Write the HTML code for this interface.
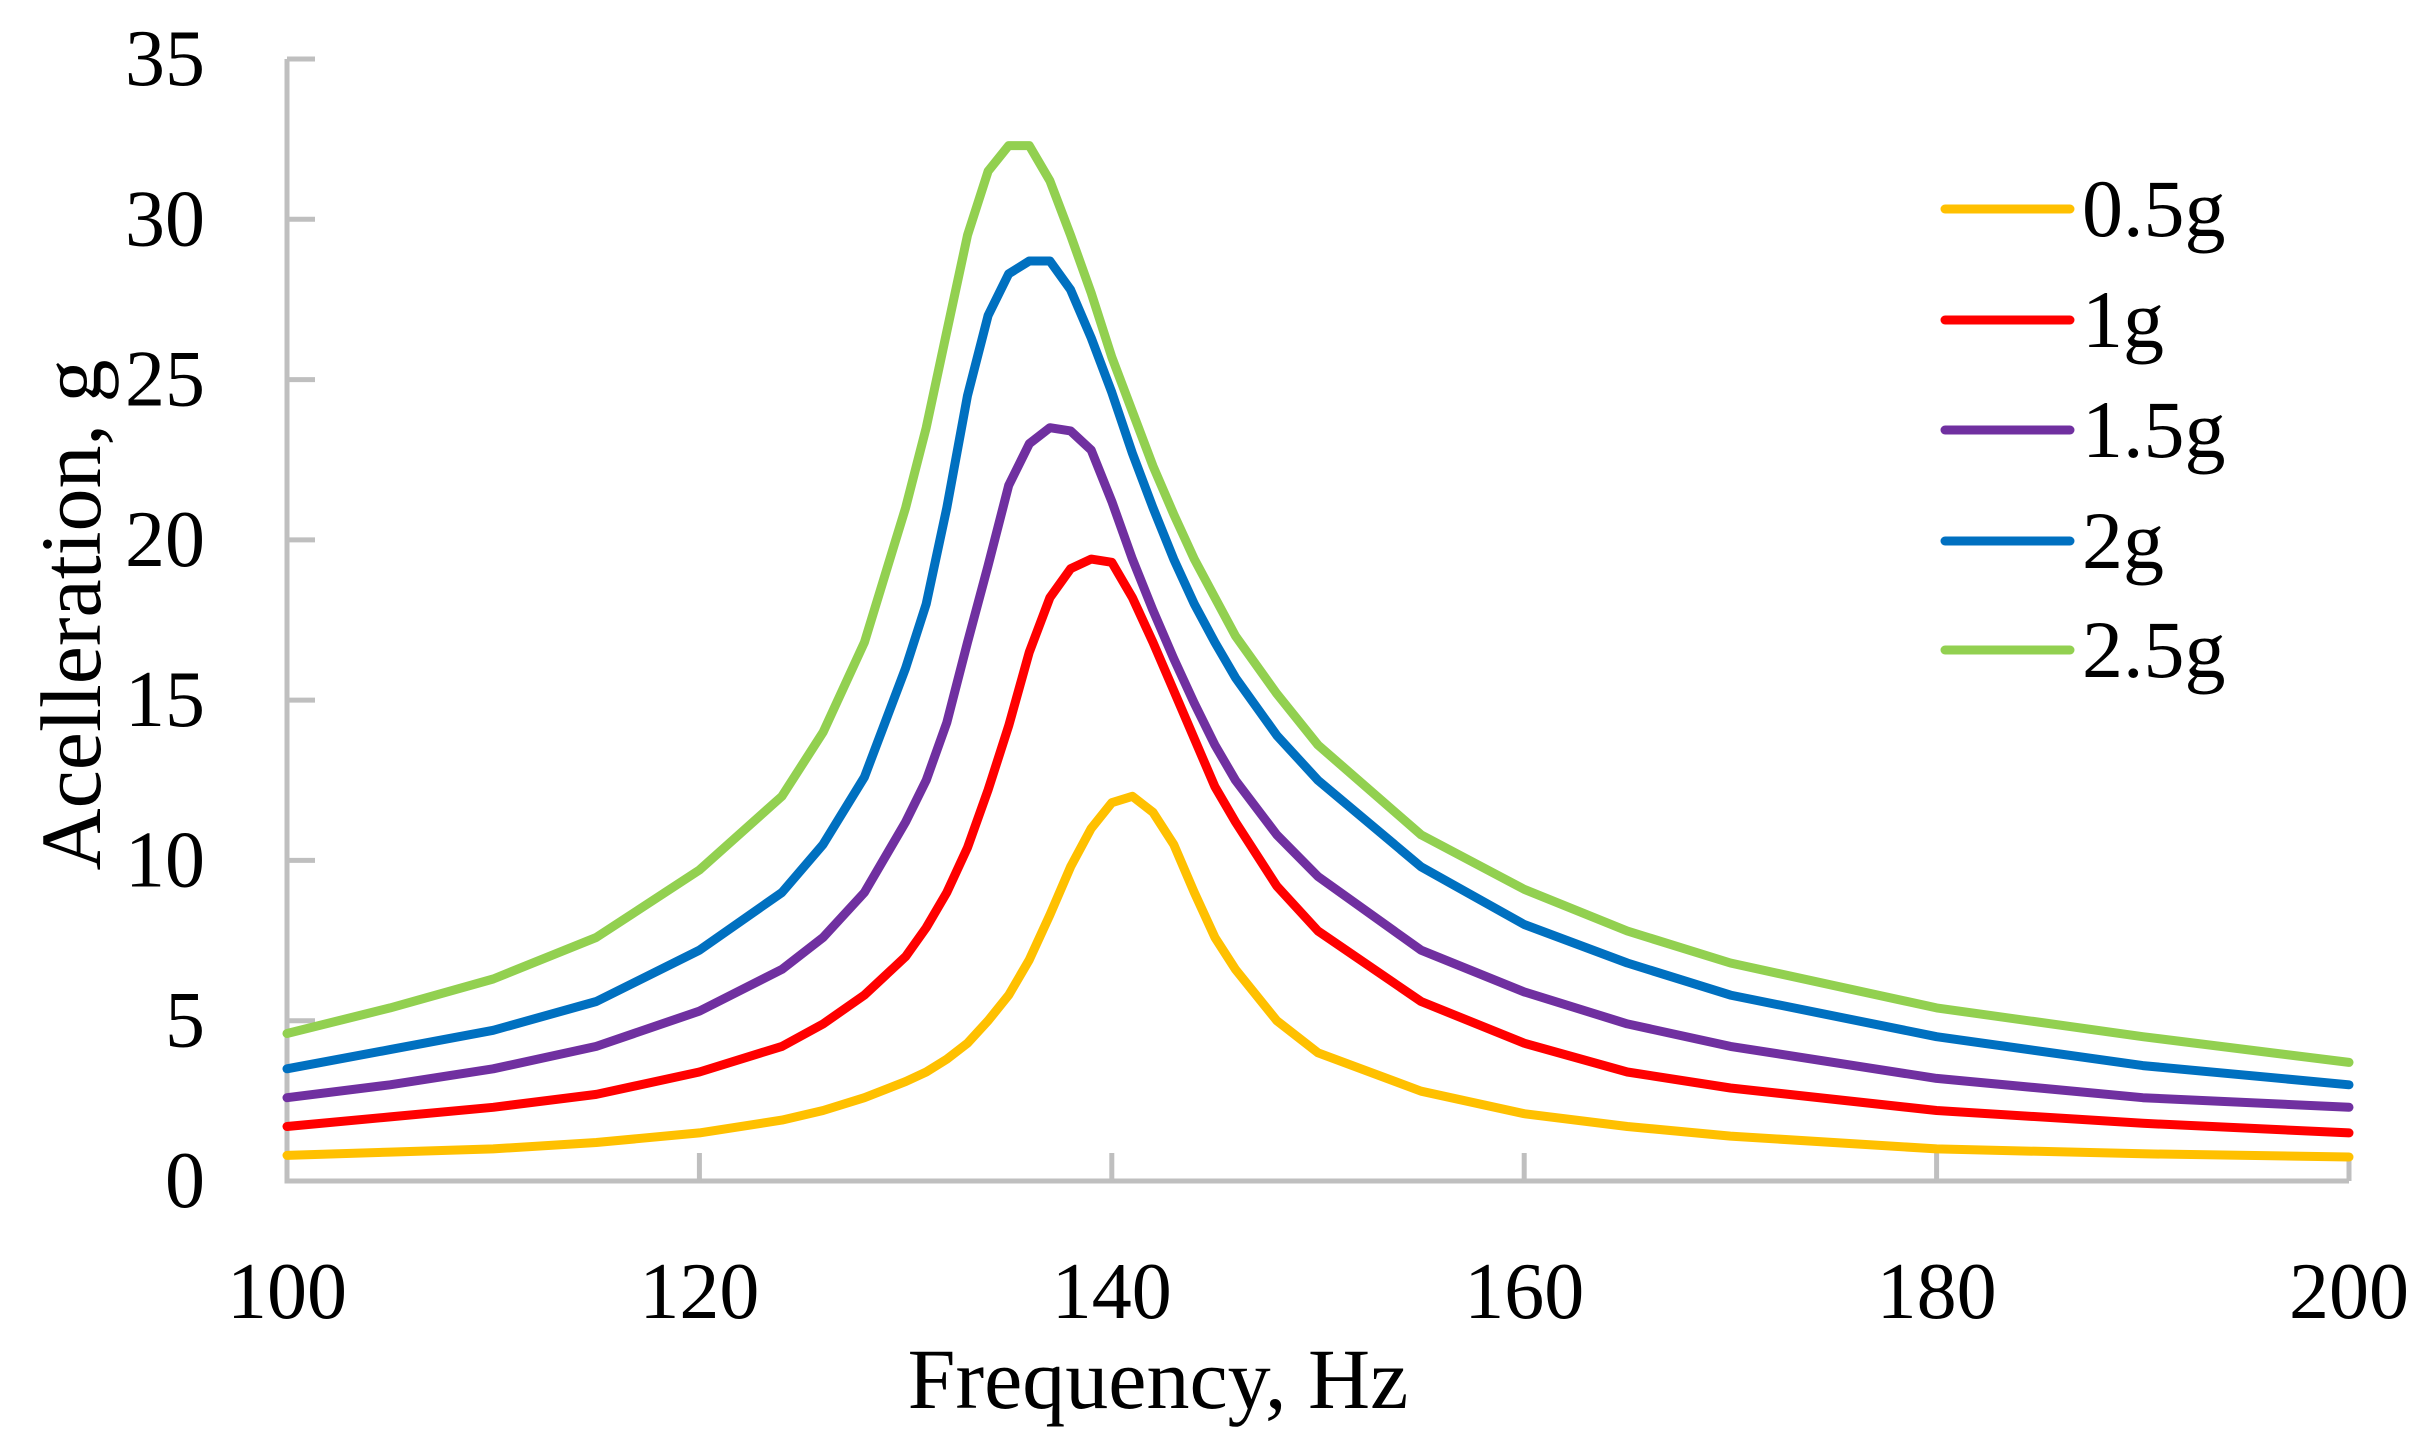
<!DOCTYPE html>
<html><head><meta charset="utf-8"><style>
html,body{margin:0;padding:0;background:#fff;}
svg text{font-family:"Liberation Serif",serif;fill:#000;}
</style></head><body>
<svg id="chart" width="2422" height="1451" xmlns="http://www.w3.org/2000/svg">
<g id="axes"></g>
<g id="series"></g>
<g id="legend"></g>
<text x="1158" y="1408" font-size="86" text-anchor="middle">Frequency, Hz</text>
<text transform="translate(100,615) rotate(-90)" font-size="86" text-anchor="middle">Acelleration, g</text>
</svg>
<script>
const freqs=[100,105,110,115,120,124,126,128,130,131,132,133,134,135,136,137,138,139,140,141,142,143,144,145,146,148,150,155,160,165,170,180,190,200];
const s05=[0.8,0.9,1.0,1.2,1.5,1.9,2.2,2.6,3.1,3.4,3.8,4.3,5.0,5.8,6.9,8.3,9.8,11.0,11.8,12.0,11.5,10.5,9.0,7.6,6.6,5.0,4.0,2.8,2.1,1.7,1.4,1.0,0.85,0.75];
const s1=[1.7,2.0,2.3,2.7,3.4,4.2,4.9,5.8,7.0,7.9,9.0,10.4,12.2,14.2,16.5,18.2,19.1,19.4,19.3,18.2,16.8,15.3,13.8,12.3,11.2,9.2,7.8,5.6,4.3,3.4,2.9,2.2,1.8,1.5];
const s15=[2.6,3.0,3.5,4.2,5.3,6.6,7.6,9.0,11.2,12.5,14.3,16.8,19.2,21.7,23.0,23.5,23.4,22.8,21.2,19.4,17.8,16.3,14.9,13.6,12.5,10.8,9.5,7.2,5.9,4.9,4.2,3.2,2.6,2.3];
const s2=[3.5,4.1,4.7,5.6,7.2,9.0,10.5,12.6,16.0,18.0,21.0,24.5,27.0,28.3,28.7,28.7,27.8,26.3,24.6,22.7,21.0,19.4,18.0,16.8,15.7,13.9,12.5,9.8,8.0,6.8,5.8,4.5,3.6,3.0];
const s25=[4.6,5.4,6.3,7.6,9.7,12.0,14.0,16.8,21.0,23.5,26.5,29.5,31.5,32.3,32.3,31.2,29.5,27.7,25.7,24.0,22.3,20.8,19.4,18.2,17.0,15.2,13.6,10.8,9.1,7.8,6.8,5.4,4.5,3.7];
const seriesNames=["0.5g","1g","1.5g","2g","2.5g"];
const seriesColors=["#ffc000","#ff0000","#7030a0","#0070c0","#92d050"];
const xTicks=[100,120,140,160,180,200];
const yTicks=[0,5,10,15,20,25,30,35];
const NS="http://www.w3.org/2000/svg";
const X0=287,X1=2349,Y0=1181,Y1=59;
const xs=v=>X0+(v-100)/100*(X1-X0);
const ys=v=>Y0-v/35*(Y0-Y1);
function mk(tag,attrs,parent){const e=document.createElementNS(NS,tag);for(const k in attrs)e.setAttribute(k,attrs[k]);parent.appendChild(e);return e;}
const axes=document.getElementById('axes');
let a=mk('path',{d:`M${X0},${Y1} V${Y0} H${X1}`,fill:'none',stroke:'#bfbfbf','stroke-width':5},axes);


yTicks.forEach(t=>{
 const l=mk('line',{x1:X0,x2:X0+28,y1:ys(t),y2:ys(t),stroke:'#bfbfbf','stroke-width':5},axes);
 
 
 const tx=mk('text',{x:205,y:ys(t)+26,'font-size':80,'text-anchor':'end'},axes);
 tx.textContent=t;
 
 
});
xTicks.forEach(t=>{
 const l=mk('line',{x1:xs(t),x2:xs(t),y1:Y0,y2:Y0-28,stroke:'#bfbfbf','stroke-width':5},axes);
 
 
 const tx=mk('text',{x:xs(t),y:1318,'font-size':80,'text-anchor':'middle'},axes);
 tx.textContent=t;
 
 
});
const data=[s05,s1,s15,s2,s25];
const sg=document.getElementById('series');
const lg=document.getElementById('legend');
const legY=[209,320,430,541,650];
data.forEach((arr,i)=>{
 const pts=arr.map((v,j)=>xs(freqs[j]).toFixed(1)+','+ys(v).toFixed(1)).join(' ');
 const p=mk('polyline',{points:pts,fill:'none',stroke:seriesColors[i],'stroke-width':9,'stroke-linejoin':'round','stroke-linecap':'round'},sg);
 
 
 const l=mk('line',{x1:1945,x2:2070,y1:legY[i],y2:legY[i],stroke:seriesColors[i],'stroke-width':9,'stroke-linecap':'round'},lg);
 
 
 const t=mk('text',{x:2082,y:legY[i]+27,'font-size':82},lg);
 t.textContent=seriesNames[i];
 
 
});
</script>
</body></html>
